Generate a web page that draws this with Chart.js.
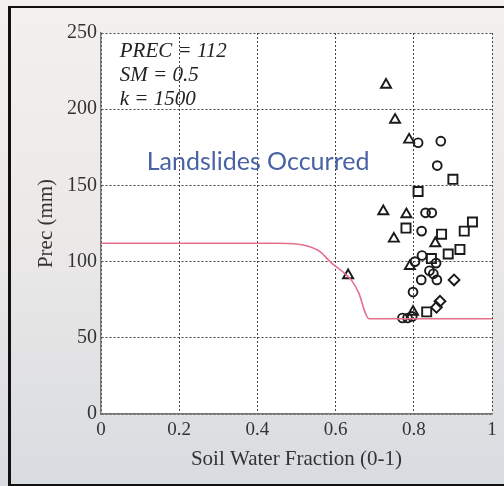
<!DOCTYPE html>
<html>
<head>
<meta charset="utf-8">
<script src="https://cdn.jsdelivr.net/npm/chart.js@4/dist/chart.umd.min.js"></script>
<style>
  html, body { margin: 0; padding: 0; background: #e6e6e6; }
  canvas { display: block; }
</style>
</head>
<body>
<canvas id="chart" width="504" height="486"></canvas>
<script>
const xTickVals = [0, 0.2, 0.4, 0.6, 0.8, 1];
const xTickLabels = ['0', '0.2', '0.4', '0.6', '0.8', '1'];
const yTickVals = [0, 50, 100, 150, 200, 250];

// threshold curve
const curveX = [0, 0.45, 0.50, 0.53, 0.56, 0.59, 0.615, 0.64, 0.66, 0.675, 0.685, 1];
const curveY = [112, 112, 111.5, 110, 106.5, 99, 94, 88, 79, 67, 62.5, 62.5];

// landslide events by marker type
const triX = [0.729, 0.752, 0.788, 0.722, 0.781, 0.749, 0.790, 0.798, 0.632, 0.855];
const triY = [216, 193, 180, 133, 131, 115, 97, 67, 91, 112];

const circX = [0.811, 0.869, 0.860, 0.830, 0.846, 0.820, 0.821, 0.857, 0.840, 0.803, 0.850, 0.819, 0.859, 0.798, 0.771, 0.784, 0.796];
const circY = [178, 179, 163, 132, 132, 120, 104, 99, 94, 100, 92, 88, 88, 80, 63, 63, 64];

const sqX = [0.811, 0.900, 0.780, 0.871, 0.929, 0.950, 0.845, 0.888, 0.918, 0.833];
const sqY = [146, 154, 122, 118, 120, 126, 102, 105, 108, 67];

const diaX = [0.903, 0.867, 0.858];
const diaY = [88, 74, 70];

const pts = (xs, ys) => xs.map((x, i) => ({ x, y: ys[i] }));

const marker = (data, style, r) => ({
    type: 'scatter',
    data,
    pointStyle: style,
    pointRadius: r,
    pointBorderWidth: 1.9,
    pointBorderColor: '#1a1a1a',
    pointBackgroundColor: 'rgba(0,0,0,0)',
});

const decor = {
    id: 'decor',
    beforeDraw(chart) {
        const { ctx, chartArea: a, width, height } = chart;
        ctx.save();
        const g = ctx.createLinearGradient(0, 0, 0, height);
        g.addColorStop(0, '#f3f0ee');
        g.addColorStop(0.5, '#ebe9e8');
        g.addColorStop(1, '#d8dbe0');
        ctx.fillStyle = g;
        ctx.fillRect(0, 0, width, height);
        ctx.fillStyle = '#ffffff';
        ctx.fillRect(a.left, a.top, a.right - a.left, a.bottom - a.top);
        ctx.restore();
    },
    afterDraw(chart) {
        const { ctx, scales: { x, y }, width, height } = chart;
        ctx.save();
        ctx.fillStyle = '#222';
        ctx.font = 'italic 21px "Liberation Serif", serif';
        ctx.textBaseline = 'alphabetic';
        ctx.textAlign = 'left';
        const tx = x.getPixelForValue(0.048);
        ctx.fillText('PREC = 112', tx, y.getPixelForValue(234));
        ctx.fillText('SM = 0.5', tx, y.getPixelForValue(218.5));
        ctx.fillText('k = 1500', tx, y.getPixelForValue(203));

        ctx.fillStyle = '#4862a4';
        ctx.font = '25px Lato, sans-serif';
        ctx.fillText('Landslides Occurred', x.getPixelForValue(0.117), y.getPixelForValue(160));

        // picture frame
        ctx.fillStyle = '#111';
        ctx.fillRect(8, 6, 3, height - 6);
        ctx.fillRect(8, 6, width - 8, 2);
        ctx.fillRect(8, height - 2, width - 8, 2);
        ctx.restore();
    }
};

new Chart(document.getElementById('chart'), {
    data: {
        datasets: [
            {
                type: 'line',
                data: pts(curveX, curveY),
                borderColor: '#e6708c',
                borderWidth: 1.6,
                pointRadius: 0,
                cubicInterpolationMode: 'monotone',
                fill: false,
            },
            marker(pts(triX, triY), 'triangle', 5.8),
            marker(pts(circX, circY), 'circle', 4.4),
            marker(pts(sqX, sqY), 'rect', 6.4),
            marker(pts(diaX, diaY), 'rectRot', 5.4),
        ]
    },
    options: {
        responsive: false,
        animation: false,
        layout: { padding: { top: 33, right: 12, left: 0, bottom: 0 } },
        plugins: { legend: { display: false }, tooltip: { enabled: false } },
        scales: {
            x: {
                type: 'linear',
                min: 0,
                max: 1,
                afterBuildTicks: s => { s.ticks = xTickVals.map(v => ({ value: v })); },
                afterFit: s => { s.height = 72; },
                ticks: {
                    callback: (v, i) => xTickLabels[i],
                    color: '#333',
                    font: { family: '"Liberation Serif", serif', size: 19 },
                    padding: 5,
                    maxRotation: 0,
                },
                grid: { color: '#444', lineWidth: 1, drawTicks: false },
                border: { color: '#777', width: 1.5, dash: [2, 2] },
                title: {
                    display: true,
                    text: 'Soil Water Fraction (0-1)',
                    color: '#333',
                    font: { family: '"Liberation Serif", serif', size: 21 },
                    padding: { top: 0, bottom: 14 },
                },
            },
            y: {
                type: 'linear',
                min: 0,
                max: 250,
                afterBuildTicks: s => { s.ticks = yTickVals.map(v => ({ value: v })); },
                afterFit: s => { s.width = 101; },
                ticks: {
                    color: '#333',
                    font: { family: '"Liberation Serif", serif', size: 20 },
                    padding: 4,
                },
                grid: { color: '#444', lineWidth: 1, drawTicks: false },
                border: { color: '#777', width: 1.5, dash: [2, 2] },
                title: {
                    display: true,
                    text: 'Prec (mm)',
                    color: '#333',
                    font: { family: '"Liberation Serif", serif', size: 21 },
                    padding: { top: 34, bottom: 0 },
                },
            }
        }
    },
    plugins: [decor]
});
</script>
</body>
</html>
